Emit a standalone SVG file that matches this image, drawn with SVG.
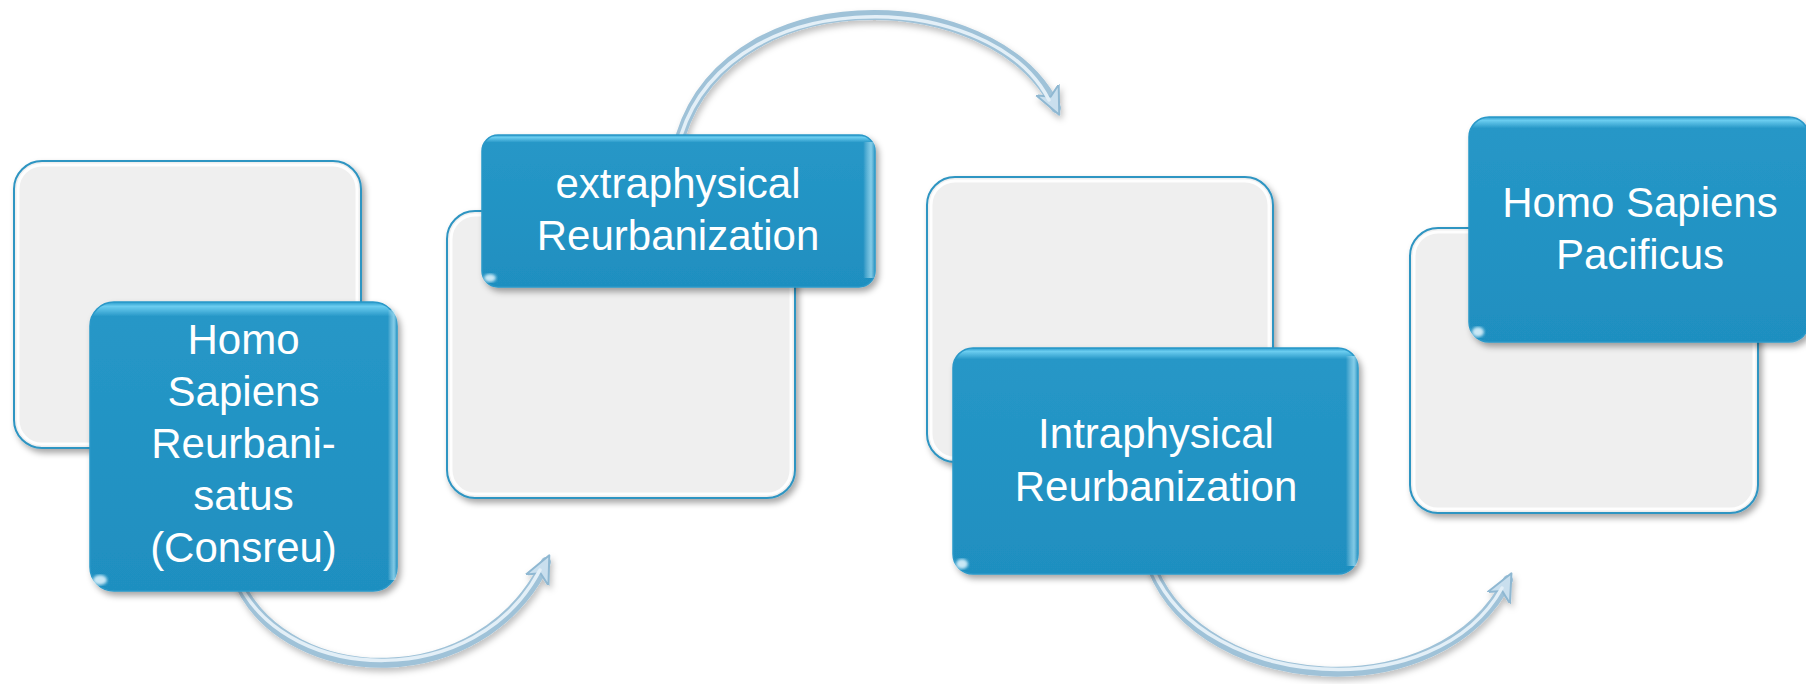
<svg xmlns="http://www.w3.org/2000/svg" width="1806" height="684" viewBox="0 0 1806 684">
<defs>
  <filter id="sh" x="-10%" y="-10%" width="125%" height="125%">
    <feDropShadow dx="3" dy="4" stdDeviation="3" flood-color="#000" flood-opacity="0.35"/>
  </filter>
  <filter id="ash" x="-20%" y="-20%" width="140%" height="140%">
    <feDropShadow dx="2" dy="4" stdDeviation="3" flood-color="#000" flood-opacity="0.25"/>
  </filter>
  <filter id="blur2"><feGaussianBlur stdDeviation="1.5"/></filter>
  <linearGradient id="blueG" x1="0" y1="0" x2="0" y2="1">
    <stop offset="0" stop-color="#2a9ccc"/>
    <stop offset="0.015" stop-color="#6ccdf0"/>
    <stop offset="0.05" stop-color="#2697c7"/>
    <stop offset="1" stop-color="#1f8fc0"/>
  </linearGradient>
  <linearGradient id="blueR" x1="0" y1="0" x2="1" y2="0">
    <stop offset="0" stop-color="#ffffff" stop-opacity="0"/>
    <stop offset="0.97" stop-color="#ffffff" stop-opacity="0"/>
    <stop offset="0.99" stop-color="#bff0ff" stop-opacity="0.6"/>
    <stop offset="1" stop-color="#ffffff" stop-opacity="0"/>
  </linearGradient>
  <marker id="ah" viewBox="0 0 12 12" refX="8" refY="6" markerWidth="30" markerHeight="30" markerUnits="userSpaceOnUse" orient="auto">
    <path d="M0,1 L11,6 L0,11 L3,6 Z" fill="#c9dfee" stroke="#8fb8d2" stroke-width="0.8" stroke-linejoin="round"/>
  </marker>
  <style>
    .gray { fill:#efefef; stroke:#2f95c2; stroke-width:2; }
    .grayhi { fill:none; stroke:#ffffff; stroke-width:3; opacity:0.9; }
    .blue { fill:url(#blueG); stroke:#2a98c8; stroke-width:1.5; }
    .sheen { fill:url(#blueR); }
    .glare { fill:#e8f8ff; opacity:0.85; }
    .lbl { font-family:"Liberation Sans", Arial, sans-serif; font-size:42px; fill:#ffffff; text-anchor:middle; }
    .arO { fill:none; stroke:#9fc2d8; stroke-width:10; stroke-linecap:round; }
    .arI { fill:none; stroke:#e3eff7; stroke-width:3.5; stroke-linecap:round; }
  </style>
</defs>
<rect width="1806" height="684" fill="#ffffff"/>

<g id="connectors">
  <g filter="url(#ash)">
    <path class="arO" d="M240,585 C290,688 480,697 546,562" marker-end="url(#ah)"/>
    <path class="arI" d="M240,585 C290,684 476,692 540,570"/>
  </g>
  <g filter="url(#ash)">
    <path class="arO" d="M677,150 C715,-25 995,-20 1056,108" marker-end="url(#ah)"/>
    <path class="arI" d="M677,150 C715,-21 990,-16 1049,100"/>
  </g>
  <g filter="url(#ash)">
    <path class="arO" d="M1153,570 C1205,695 1440,712 1508,580" marker-end="url(#ah)"/>
    <path class="arI" d="M1153,570 C1205,691 1436,707 1502,588"/>
  </g>
</g>

<g id="node1">
  <rect class="gray" x="14" y="161" width="347" height="287" rx="28" filter="url(#sh)"/>
  <rect class="grayhi" x="18" y="165" width="339" height="279" rx="24"/>
  <rect class="blue" x="90" y="302" width="307" height="289" rx="24" filter="url(#sh)"/>
  <rect class="sheen" x="90" y="310" width="307" height="270"/>
  <ellipse class="glare" cx="100" cy="580" rx="7" ry="5" filter="url(#blur2)"/>
  <text class="lbl" x="243.5" y="354">Homo</text>
  <text class="lbl" x="243.5" y="406">Sapiens</text>
  <text class="lbl" x="243.5" y="458">Reurbani-</text>
  <text class="lbl" x="243.5" y="510">satus</text>
  <text class="lbl" x="243.5" y="562">(Consreu)</text>
</g>

<g id="node2">
  <rect class="gray" x="447" y="211" width="348" height="287" rx="28" filter="url(#sh)"/>
  <rect class="grayhi" x="451" y="215" width="340" height="279" rx="24"/>
  <rect class="blue" x="482" y="135" width="393" height="152" rx="16" filter="url(#sh)"/>
  <rect class="sheen" x="482" y="142" width="393" height="136"/>
  <ellipse class="glare" cx="490" cy="278" rx="6" ry="4" filter="url(#blur2)"/>
  <text class="lbl" x="678" y="198">extraphysical</text>
  <text class="lbl" x="678" y="250">Reurbanization</text>
</g>

<g id="node3">
  <rect class="gray" x="927" y="177" width="346" height="285" rx="28" filter="url(#sh)"/>
  <rect class="grayhi" x="931" y="181" width="338" height="277" rx="24"/>
  <rect class="blue" x="953" y="348" width="405" height="226" rx="20" filter="url(#sh)"/>
  <rect class="sheen" x="953" y="356" width="405" height="210"/>
  <ellipse class="glare" cx="962" cy="564" rx="6" ry="5" filter="url(#blur2)"/>
  <text class="lbl" x="1156" y="448">Intraphysical</text>
  <text class="lbl" x="1156" y="501">Reurbanization</text>
</g>

<g id="node4">
  <rect class="gray" x="1410" y="228" width="348" height="285" rx="28" filter="url(#sh)"/>
  <rect class="grayhi" x="1414" y="232" width="340" height="277" rx="24"/>
  <rect class="blue" x="1469" y="117" width="340" height="225" rx="20" filter="url(#sh)"/>
  <ellipse class="glare" cx="1478" cy="332" rx="6" ry="5" filter="url(#blur2)"/>
  <text class="lbl" x="1640" y="217">Homo Sapiens</text>
  <text class="lbl" x="1640" y="269">Pacificus</text>
</g>
</svg>
